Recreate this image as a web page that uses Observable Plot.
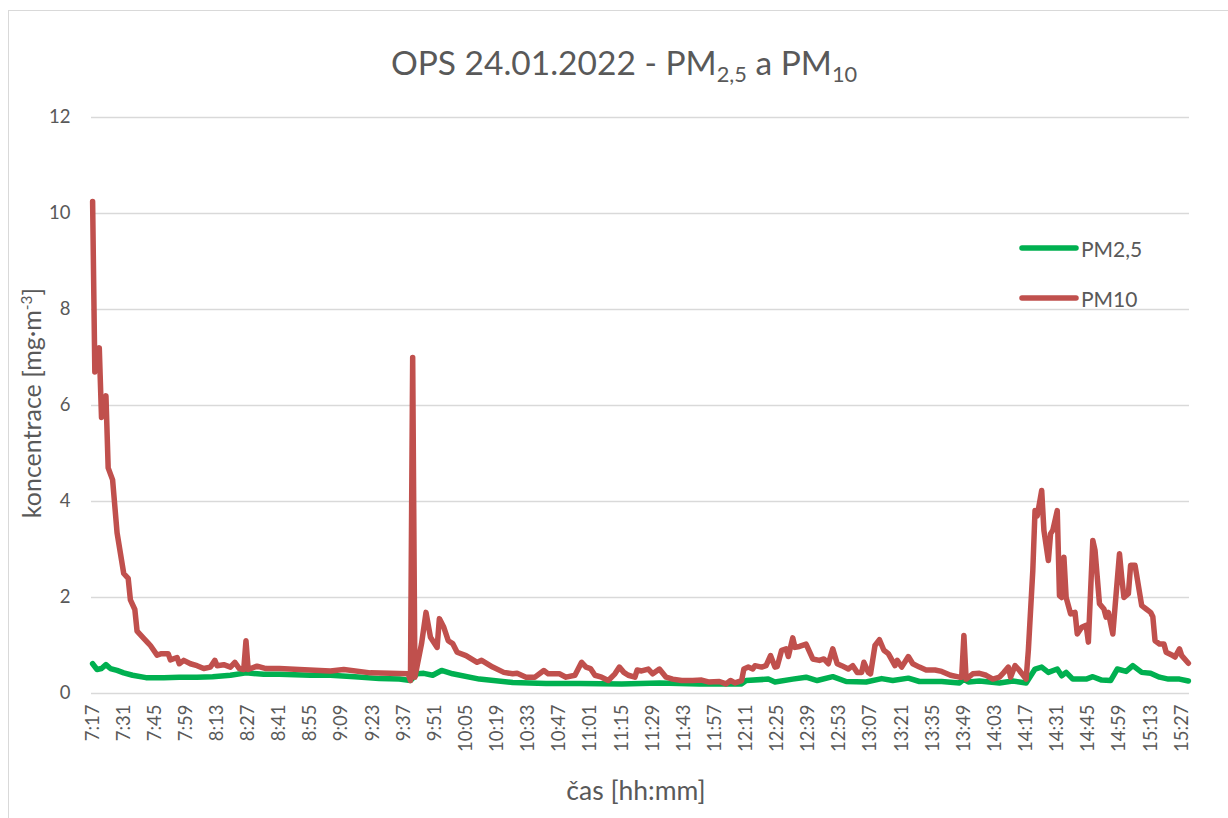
<!DOCTYPE html>
<html>
<head>
<meta charset="utf-8">
<script src="https://cdn.jsdelivr.net/npm/d3@7"></script>
<script src="https://cdn.jsdelivr.net/npm/@observablehq/plot@0.6"></script>
<style>
html, body { margin: 0; padding: 0; background: #fff; overflow: hidden; }
#wrap { position: relative; width: 1228px; height: 818px; font-family: Lato, "Open Sans", sans-serif; color: #595959; }
#frame { position: absolute; left: 8px; top: 10px; width: 1260px; height: 860px; border: 1px solid #d9d9d9; }
#chart { position: absolute; left: 0; top: 0; }
#title { position: absolute; left: 10px; top: 42px; width: 1228px; text-align: center; font-size: 33.5px; white-space: nowrap; }
#title sub { font-size: 65%; vertical-align: -0.3em; }
#ytitle { position: absolute; left: 31px; top: 403px; transform: translate(-50%, -50%) rotate(-90deg); font-size: 25px; white-space: nowrap; }
#ytitle sup { font-size: 62%; vertical-align: 0.55em; }
#xtitle { position: absolute; left: 636px; top: 790px; transform: translate(-50%, -50%); font-size: 26.5px; white-space: nowrap; }
.leg { position: absolute; left: 1019px; display: flex; align-items: center; font-size: 21px; }
.leg svg { margin-right: 2px; }
</style>
</head>
<body>
<div id="wrap">
  <div id="frame"></div>
  <div id="chart"></div>
  <div id="title">OPS 24.01.2022 - PM<sub>2,5</sub> a PM<sub>10</sub></div>
  <div id="ytitle">koncentrace [mg·m<sup>-3</sup>]</div>
  <div id="xtitle">čas [hh:mm]</div>
  <div id="legend"></div>
</div>
<script>
// ---- data ----
const seriesNames = ["PM2,5", "PM10"];
const seriesColors = ["#00B050", "#C0504D"];

const xTickLabels = ["7:17","7:31","7:45","7:59","8:13","8:27","8:41","8:55","9:09","9:23","9:37","9:51",
  "10:05","10:19","10:33","10:47","11:01","11:15","11:29","11:43","11:57","12:11","12:25","12:39",
  "12:53","13:07","13:21","13:35","13:49","14:03","14:17","14:31","14:45","14:59","15:13","15:27"];
const yTicks = [0, 2, 4, 6, 8, 10, 12];

const pm10Times = ["7:17","7:18","7:20","7:21","7:23","7:24","7:26","7:28","7:31","7:33","7:34","7:36","7:37","7:40",
  "7:42","7:43","7:46","7:48","7:51","7:52","7:55","7:56","7:58","8:01","8:04","8:07","8:10","8:12","8:13","8:16",
  "8:19","8:21","8:23","8:25","8:26","8:27","8:31","8:35","8:41","8:50","9:04","9:10","9:22","9:31","9:39","9:40",
  "9:41","9:42","9:45","9:47","9:49","9:52","9:53","9:55","9:57","9:59","10:01","10:05","10:10","10:12","10:17",
  "10:22","10:26","10:28","10:32","10:36","10:40","10:42","10:47","10:50","10:54","10:57","10:59","11:01","11:03",
  "11:06","11:09","11:12","11:14","11:16","11:18","11:21","11:22","11:24","11:27","11:29","11:32","11:35","11:38",
  "11:42","11:47","11:51","11:54","11:59","12:02","12:04","12:06","12:09","12:10","12:12","12:14","12:15","12:18",
  "12:20","12:22","12:24","12:25","12:27","12:29","12:30","12:32","12:33","12:35","12:38","12:41","12:44","12:46",
  "12:48","12:50","12:52","12:54","12:57","12:59","13:01","13:03","13:04","13:06","13:07","13:09","13:11","13:13",
  "13:15","13:18","13:19","13:21","13:24","13:26","13:29","13:32","13:36","13:39","13:43","13:47","13:48","13:49",
  "13:50","13:53","13:56","13:59","14:02","14:05","14:07","14:09","14:10","14:12","14:14","14:17","14:18","14:20",
  "14:21","14:22","14:24","14:25","14:27","14:28","14:29","14:31","14:32","14:33","14:34","14:35","14:37","14:39",
  "14:40","14:42","14:44","14:45","14:47","14:48","14:50","14:52","14:53","14:54","14:56","14:57","14:59","15:00",
  "15:01","15:03","15:04","15:06","15:09","15:11","15:13","15:14","15:15","15:17","15:19","15:20","15:23","15:24",
  "15:26","15:27","15:30"];
const pm10Values = [10.25,6.7,7.2,5.75,6.2,4.7,4.45,3.35,2.5,2.4,1.95,1.75,1.3,1.15,
  1.05,1.0,0.8,0.83,0.83,0.7,0.75,0.62,0.69,0.62,0.58,0.52,0.55,0.69,0.58,0.6,
  0.55,0.65,0.52,0.5,1.1,0.5,0.57,0.52,0.52,0.5,0.47,0.5,0.43,0.42,0.41,0.27,
  7.0,0.34,1.04,1.69,1.17,0.96,1.56,1.38,1.1,1.04,0.86,0.79,0.65,0.69,0.55,
  0.44,0.41,0.42,0.34,0.34,0.48,0.41,0.41,0.34,0.38,0.65,0.55,0.52,0.38,
  0.34,0.27,0.41,0.55,0.44,0.38,0.34,0.49,0.47,0.51,0.41,0.51,0.34,0.3,
  0.27,0.27,0.28,0.24,0.25,0.2,0.27,0.22,0.27,0.51,0.55,0.51,0.58,0.55,
  0.58,0.79,0.55,0.56,0.9,0.93,0.77,1.16,0.96,0.98,1.03,0.72,0.69,0.72,
  0.62,0.93,0.62,0.58,0.51,0.58,0.44,0.44,0.65,0.44,0.41,1.0,1.12,0.9,
  0.83,0.58,0.69,0.55,0.77,0.62,0.55,0.49,0.49,0.46,0.38,0.34,0.34,1.21,
  0.3,0.41,0.42,0.38,0.3,0.34,0.44,0.55,0.34,0.58,0.48,0.3,0.9,2.56,
  3.81,3.7,4.23,3.4,2.77,3.33,3.4,3.81,2.04,2.0,2.84,2.0,1.66,1.69,
  1.24,1.38,1.42,1.07,3.19,2.98,1.87,1.76,1.59,1.69,1.24,1.8,2.91,2.42,
  2.0,2.08,2.67,2.67,1.83,1.76,1.69,1.6,1.1,1.03,1.03,0.86,0.79,0.76,
  0.93,0.79,0.63];

const pm25Times = ["7:17","7:19","7:21","7:23","7:25","7:28","7:31","7:35","7:41","7:49","7:56","8:04","8:11","8:19",
  "8:26","8:34","8:41","8:55","9:04","9:15","9:26","9:35","9:40","9:43","9:46","9:50","9:54","9:59","10:11","10:26",
  "10:41","10:56","11:15","11:32","11:50","12:09","12:11","12:21","12:24","12:32","12:38","12:43","12:50","12:56",
  "13:05","13:12","13:17","13:24","13:29","13:39","13:47","13:49","13:51","13:56","14:05","14:11","14:17","14:21",
  "14:24","14:27","14:31","14:33","14:35","14:38","14:44","14:47","14:51","14:55","14:58","15:02","15:05","15:09",
  "15:13","15:17","15:21","15:26","15:30"];
const pm25Values = [0.62,0.5,0.52,0.6,0.52,0.48,0.43,0.38,0.33,0.33,0.34,0.34,0.35,0.38,
  0.43,0.4,0.4,0.38,0.38,0.35,0.31,0.3,0.27,0.41,0.42,0.38,0.48,0.41,0.3,0.23,
  0.21,0.21,0.2,0.22,0.2,0.2,0.27,0.3,0.24,0.3,0.34,0.27,0.35,0.25,
  0.24,0.31,0.27,0.32,0.25,0.25,0.22,0.3,0.24,0.26,0.22,0.26,0.22,0.51,
  0.55,0.44,0.51,0.37,0.44,0.3,0.3,0.35,0.28,0.27,0.51,0.46,0.58,0.44,
  0.42,0.34,0.3,0.3,0.26];

// ---- build ----
const toMin = s => { const [h, m] = s.split(":").map(Number); return h * 60 + m; };
const pm25 = pm25Times.map((t, i) => ({ t: toMin(t), v: pm25Values[i] }));
const pm10 = pm10Times.map((t, i) => ({ t: toMin(t), v: pm10Values[i] }));
const xTicks = xTickLabels.map(toMin);
const labelOf = new Map(xTicks.map((m, i) => [m, xTickLabels[i]]));

const chart = Plot.plot({
  width: 1228,
  height: 818,
  marginLeft: 91,
  marginRight: 39,
  marginTop: 117,
  marginBottom: 125,
  x: { type: "linear", domain: [436.5, 930.5] },
  y: { type: "linear", domain: [0, 12] },
  style: { fontFamily: "Lato, 'Open Sans', sans-serif", fontSize: "18px", color: "#595959", background: "transparent", overflow: "visible" },
  marks: [
    Plot.gridY(yTicks, { stroke: "#d9d9d9", strokeOpacity: 1, strokeWidth: 1.3 }),
    Plot.axisY(yTicks, { tickSize: 0, tickPadding: 21, label: null, fontSize: 18.5 }),
    Plot.axisX(xTicks, { tickSize: 0, tickPadding: 11, tickRotate: -90, tickFormat: d => labelOf.get(d), label: null, fontSize: 18.5 }),
    Plot.lineY(pm25, { x: "t", y: "v", stroke: seriesColors[0], strokeWidth: 5.5, strokeLinejoin: "round", strokeLinecap: "round" }),
    Plot.lineY(pm10, { x: "t", y: "v", stroke: seriesColors[1], strokeWidth: 5.5, strokeLinejoin: "round", strokeLinecap: "round" })
  ]
});
document.getElementById("chart").appendChild(chart);

// legend
const legend = document.getElementById("legend");
const legTops = [248, 298];
seriesNames.forEach((name, i) => {
  const row = document.createElement("div");
  row.className = "leg";
  row.style.top = (legTops[i] - 13) + "px";
  row.innerHTML = `<svg width="60" height="26"><line x1="3" y1="13" x2="57" y2="13" stroke="${seriesColors[i]}" stroke-width="5.5" stroke-linecap="round"/></svg><span>${name}</span>`;
  legend.appendChild(row);
});
</script>
</body>
</html>
